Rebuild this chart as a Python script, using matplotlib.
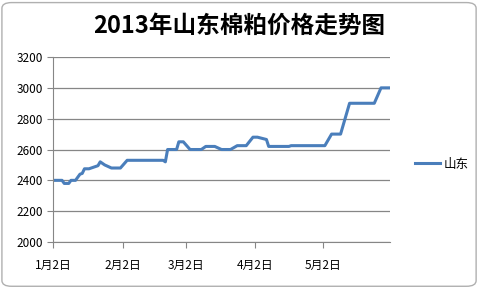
import matplotlib
matplotlib.use("Agg")
import matplotlib.pyplot as plt
from matplotlib.patches import FancyBboxPatch
import pandas as pd

plt.rcParams['font.family'] = ['Noto Sans CJK SC', 'DejaVu Sans']

dates = ["2013-01-02", "2013-01-06", "2013-01-07", "2013-01-09", "2013-01-10",
         "2013-01-12", "2013-01-14", "2013-01-15", "2013-01-16", "2013-01-18",
         "2013-01-21", "2013-01-22", "2013-01-23", "2013-01-25", "2013-01-28",
         "2013-02-01", "2013-02-04", "2013-02-20", "2013-02-21", "2013-02-22",
         "2013-02-26", "2013-02-27", "2013-03-01", "2013-03-04", "2013-03-09",
         "2013-03-11", "2013-03-15", "2013-03-18", "2013-03-22", "2013-03-25",
         "2013-03-29", "2013-04-01", "2013-04-03", "2013-04-07", "2013-04-08",
         "2013-04-17", "2013-04-18", "2013-05-03", "2013-05-06", "2013-05-10",
         "2013-05-14", "2013-05-25", "2013-05-28", "2013-06-01"]
prices = [2400, 2400, 2380, 2380, 2400,
          2400, 2440, 2445, 2475, 2475,
          2490, 2495, 2520, 2500, 2480,
          2480, 2530, 2530, 2520, 2600,
          2600, 2650, 2650, 2600, 2600,
          2620, 2620, 2600, 2600, 2625,
          2625, 2680, 2680, 2665, 2620,
          2620, 2625, 2625, 2700, 2700,
          2900, 2900, 3000, 3000]
series_name = "山东"
title = "2013年山东棉粕价格走势图"
tick_dates = ["2013-01-02", "2013-02-02", "2013-03-02", "2013-04-02", "2013-05-02"]
tick_labels = ["1月2日", "2月2日", "3月2日", "4月2日", "5月2日"]

x = pd.to_datetime(dates)

fig = plt.figure(figsize=(4.79, 2.88), dpi=100)
fig.patches.append(FancyBboxPatch((0.004, 0.006), 0.99, 0.985, boxstyle="round,pad=0,rounding_size=0.02",
                                  transform=fig.transFigure, facecolor="white",
                                  edgecolor="#b0b0b0", linewidth=1, zorder=-10))
ax = fig.add_axes([0.1107, 0.1597, 0.7035, 0.6423])
ax.set_facecolor("none")

ax.plot(x, prices, color="#4a7ebb", linewidth=2.2, label=series_name)

ax.set_ylim(2000, 3200)
ax.set_yticks(range(2000, 3201, 200))
ax.set_xlim(x[0], x[-1])
ax.set_xticks(pd.to_datetime(tick_dates))
ax.set_xticklabels(tick_labels)

ax.yaxis.grid(True, color="#868686", linewidth=0.9)
ax.set_axisbelow(True)
for s in ["top", "right"]:
    ax.spines[s].set_visible(False)
ax.spines["left"].set_color("#868686")
ax.spines["bottom"].set_color("#868686")
ax.tick_params(axis="y", length=4, color="#868686", labelsize=8.5, pad=3)
ax.tick_params(axis="x", length=4, color="#868686", labelsize=8.5, pad=8)

fig.text(0.5, 0.91, title, ha="center", va="center", fontsize=17, fontweight="bold")

ax.legend(loc="center left", bbox_to_anchor=(1.04, 0.42), frameon=False,
          fontsize=9, handlelength=2.0, handletextpad=0.3)

fig.savefig("out.png", dpi=100)
